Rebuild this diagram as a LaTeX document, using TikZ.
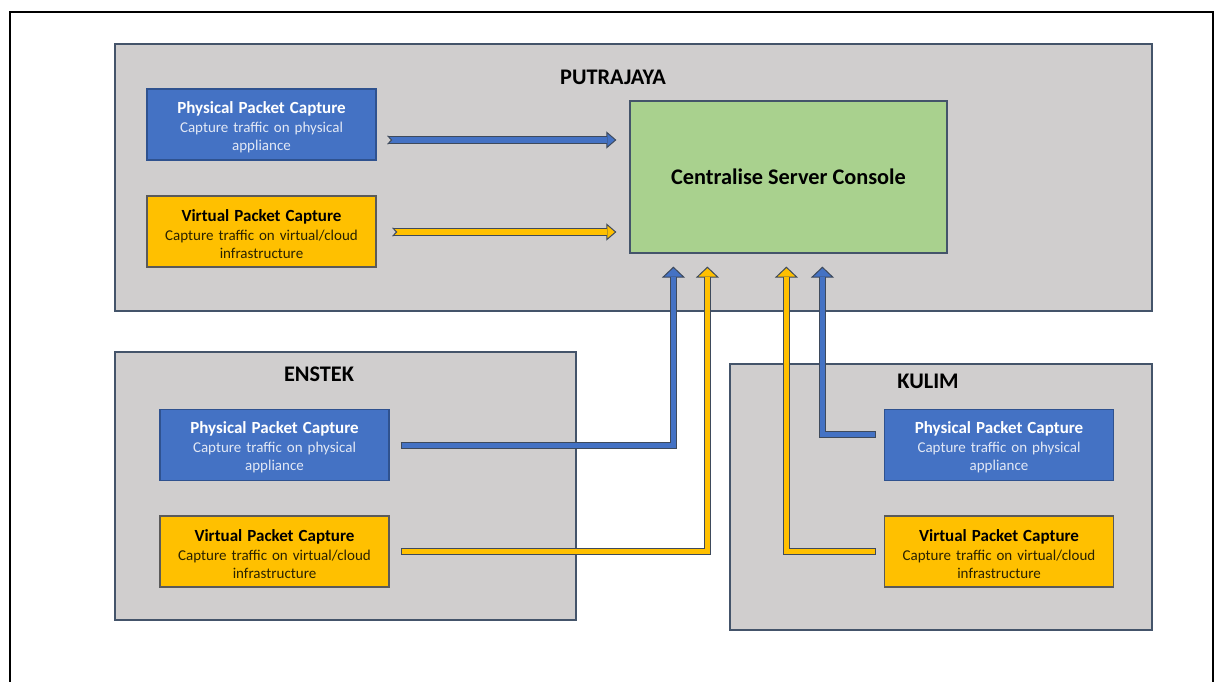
\documentclass[tikz,border=0pt]{standalone}
\usepackage{fontspec}
\setmainfont{Carlito}
\usetikzlibrary{arrows.meta,calc}
\definecolor{regfill}{HTML}{D0CECE}
\definecolor{regdraw}{HTML}{44546A}
\definecolor{pblue}{HTML}{4472C4}
\definecolor{pbluedraw}{HTML}{2F528F}
\definecolor{vyel}{HTML}{FFC000}
\definecolor{vyeldraw}{HTML}{5A5A5A}
\definecolor{cgreen}{HTML}{A9D18E}
\definecolor{arrdraw}{HTML}{3E4A5C}
\definecolor{subwhite}{HTML}{E2E8F5}
\definecolor{subdark}{HTML}{2A2200}
\newcommand\cptitle{\rule{0pt}{17pt}\fontsize{17}{18}\selectfont\bfseries}
\newcommand\cpsub{\fontsize{15}{18}\selectfont\mdseries}
\begin{document}
\begin{tikzpicture}[x=1pt,y=-1pt,
  region/.style={draw=regdraw, fill=regfill, line width=1.2pt},
  reglabel/.style={font=\fontsize{22.3}{26}\selectfont\bfseries, inner sep=0pt},
  capbox/.style={minimum width=229pt, minimum height=71pt, inner sep=0pt, line width=1.2pt, align=center, text width=225pt, font=\fontsize{15}{18}\selectfont},
  phys/.style={capbox, fill=pblue, draw=pbluedraw, text=white},
  virt/.style={capbox, fill=vyel, draw=vyeldraw, text=black},
  console/.style={fill=cgreen, draw=regdraw, line width=1.2pt, minimum width=317pt, minimum height=152pt, inner sep=0pt, font=\fontsize{22.3}{26}\selectfont\bfseries},
  flowarrow/.style={line width=8pt, draw=arrdraw, line join=miter,
    -{Triangle[width=17pt,length=10pt,line width=1pt,fill=#1]},
    postaction={draw=#1, line width=6pt, arrows=-, shorten >=9pt, shorten <=1pt}},
  elbowarrow/.style={line width=7pt, draw=arrdraw, line join=miter,
    -{Triangle[width=23pt,length=11pt,line width=1pt,fill=#1]},
    postaction={draw=#1, line width=5pt, arrows=-, shorten >=10pt, shorten <=1pt}},
  notch/.pic={
    \fill[regfill] (-1,-4.6) -- (4.5,0) -- (-1,4.6) -- cycle;
    \draw[arrdraw, line width=1pt] (0,-4.2) -- (4,0) -- (0,4.2);
  }
]
\useasboundingbox (0,0) rectangle (1220,682);
\fill[white] (0,0) rectangle (1220,682);
\draw[line width=2pt] (10,12) rectangle (1213,700);

% regions
\draw[region] (115,44) rectangle (1152,311);
\draw[region] (115,352) rectangle (576,620);
\draw[region] (730,364) rectangle (1152,630);

\node[reglabel] (lp) at (613,77) {PUTRAJAYA};
\node[reglabel] (le) at (319,374) {ENSTEK};
\node[reglabel] (lk) at (928,381) {KULIM};

% Putrajaya
\node[phys] (pp) at (261.5,124.5) {\cptitle Physical Packet Capture\\[1pt] \cpsub\color{subwhite} Capture traffic on physical\\ appliance};
\node[virt] (pv) at (261.5,231.5) {\cptitle Virtual Packet Capture\\[1pt] \cpsub\color{subdark} Capture traffic on virtual/cloud\\ infrastructure};
\node[console] (cs) at (788.5,177) {Centralise Server Console};

% Enstek
\node[phys] (ep) at (274.5,445) {\cptitle Physical Packet Capture\\[1pt] \cpsub\color{subwhite} Capture traffic on physical\\ appliance};
\node[virt] (ev) at (274.5,551.5) {\cptitle Virtual Packet Capture\\[1pt] \cpsub\color{subdark} Capture traffic on virtual/cloud\\ infrastructure};

% Kulim
\node[phys] (kp) at (999,445) {\cptitle Physical Packet Capture\\[1pt] \cpsub\color{subwhite} Capture traffic on physical\\ appliance};
\node[virt] (kv) at (999,551.5) {\cptitle Virtual Packet Capture\\[1pt] \cpsub\color{subdark} Capture traffic on virtual/cloud\\ infrastructure};

% straight arrows
\coordinate (a1s) at ($(pp.east)+(11,15.5)$);
\coordinate (a1e) at ($(cs.west)+(-13,-37)$);
\coordinate (a2s) at ($(pv.east)+(16,0.5)$);
\coordinate (a2e) at ($(cs.west)+(-13,55)$);
\draw[flowarrow=pblue] (a1s) -- (a1e);
\draw[flowarrow=vyel] (a2s) -- (a2e);
\pic at (a1s) {notch};
\pic at (a2s) {notch};

% elbow arrows
\coordinate (e1s) at ($(ep.east)+(11,0)$);
\coordinate (e1e) at ($(cs.south west)+(44,13)$);
\coordinate (e2s) at ($(ev.east)+(11,0)$);
\coordinate (e2e) at ($(cs.south west)+(78,13)$);
\coordinate (k1s) at ($(kp.west)+(-8,-11)$);
\coordinate (k1e) at ($(cs.south west)+(193,13)$);
\coordinate (k2s) at ($(kv.west)+(-8,0)$);
\coordinate (k2e) at ($(cs.south west)+(157,13)$);
\draw[elbowarrow=pblue] (e1s) -| (e1e);
\draw[elbowarrow=vyel] (e2s) -| (e2e);
\draw[elbowarrow=pblue] (k1s) -| (k1e);
\draw[elbowarrow=vyel] (k2s) -| (k2e);
\end{tikzpicture}
\end{document}
